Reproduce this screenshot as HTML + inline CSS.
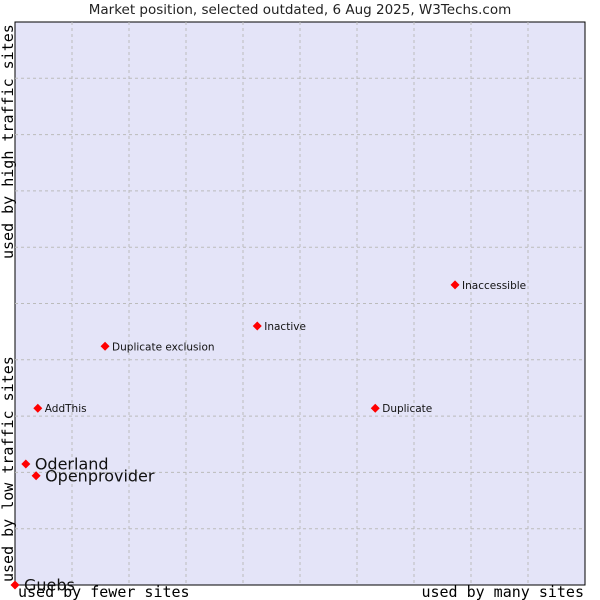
<!DOCTYPE html>
<html><head><meta charset="utf-8"><style>
body{margin:0;background:#fff;}
svg{display:block;}
</style></head><body>
<svg id="chart" width="600" height="600" xmlns="http://www.w3.org/2000/svg">
<text x="300" y="14" text-anchor="middle" font-family="DejaVu Sans, sans-serif" font-size="13.5" fill="#222">Market position, selected outdated, 6 Aug 2025, W3Techs.com</text>
<rect x="15" y="22" width="570" height="563" fill="#e4e4f8" stroke="#000" stroke-width="1"/>
<g id="grid"></g>
<g id="points"></g>
<text x="18" y="597" font-family="DejaVu Sans Mono, monospace" font-size="15" fill="#000">used by fewer sites</text>
<text x="584" y="597" text-anchor="end" font-family="DejaVu Sans Mono, monospace" font-size="15" fill="#000">used by many sites</text>
<text transform="translate(13,582) rotate(-90)" font-family="DejaVu Sans Mono, monospace" font-size="15" fill="#000">used by low traffic sites</text>
<text transform="translate(13,259) rotate(-90)" font-family="DejaVu Sans Mono, monospace" font-size="15" fill="#000">used by high traffic sites</text>
</svg>
<script>
const names = ["Guebs","Oderland","Openprovider","AddThis","Duplicate exclusion","Inactive","Duplicate","Inaccessible"];
const xValues = [0,1.9,3.7,4.0,15.8,42.5,63.2,77.2];
const yValues = [0,21.5,19.4,31.4,42.4,46.0,31.4,53.3];
const bigLabel = [true,true,true,false,false,false,false,false];
const L=15,T=22,W=570,H=563;
const sx=v=>L+v/100*W, sy=v=>T+H-v/100*H;
const NS="http://www.w3.org/2000/svg";
const grid=document.getElementById('grid');
for(let i=1;i<10;i++){
  const v=document.createElementNS(NS,'line');
  
  
  v.setAttribute('x1',sx(i*10));v.setAttribute('x2',sx(i*10));v.setAttribute('y1',T);v.setAttribute('y2',T+H);
  v.setAttribute('stroke','#bbb');v.setAttribute('stroke-dasharray','3,3');
  grid.appendChild(v);
  const h=document.createElementNS(NS,'line');
  
  
  h.setAttribute('y1',sy(i*10));h.setAttribute('y2',sy(i*10));h.setAttribute('x1',L);h.setAttribute('x2',L+W);
  h.setAttribute('stroke','#bbb');h.setAttribute('stroke-dasharray','3,3');
  grid.appendChild(h);
}
const pts=document.getElementById('points');
names.forEach((n,i)=>{
  const x=sx(xValues[i]),y=sy(yValues[i]);
  const d=document.createElementNS(NS,'path');
  
  
  d.setAttribute('d',`M${x} ${y-4.5}L${x+4.5} ${y}L${x} ${y+4.5}L${x-4.5} ${y}Z`);
  d.setAttribute('fill','#f00');
  pts.appendChild(d);
  const t=document.createElementNS(NS,'text');
  
  
  t.setAttribute('x',x+(bigLabel[i]?9:7));
  t.setAttribute('y',y+(bigLabel[i]?5.5:4));
  t.setAttribute('font-family','DejaVu Sans, sans-serif');
  t.setAttribute('font-size',bigLabel[i]?'16':'10.5');
  t.setAttribute('fill','#111');
  t.textContent=n;
  pts.appendChild(t);
});
</script>
</body></html>
